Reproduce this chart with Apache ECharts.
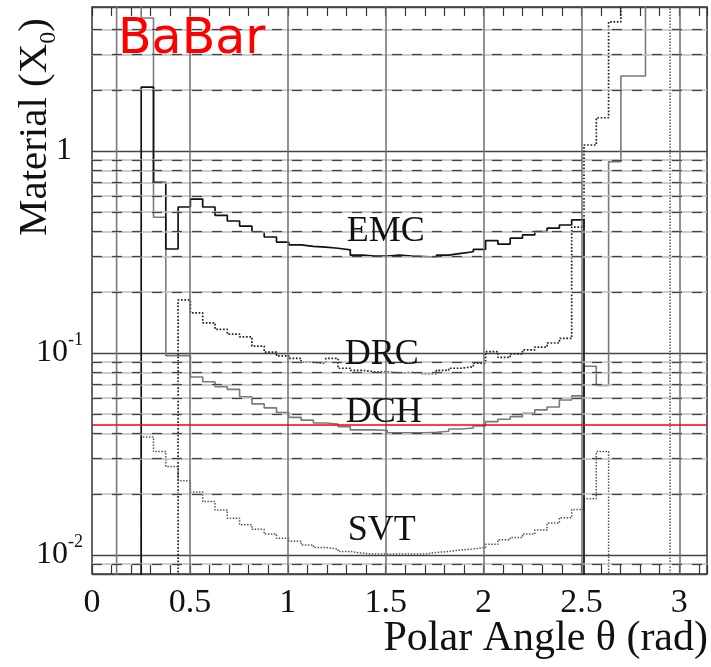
<!DOCTYPE html>
<html>
<head>
<meta charset="utf-8">
<script src="https://cdn.jsdelivr.net/npm/echarts@6/dist/echarts.min.js"></script>
<style>
html, body { margin: 0; padding: 0; background: #fff; }
#chart { width: 711px; height: 667px; }
</style>
</head>
<body>
<div id="chart"></div>
<script>
// material in X0, 50 bins of equal width over 0..pi
const NBINS = 50
const LO = 0.0001   // bin below the plotted range
const HI = 100      // bin above the plotted range

const emc = [LO, LO, LO, LO, 2.07, 0.70, 0.327, 0.528, 0.578, 0.528,
    0.48, 0.45, 0.425, 0.397, 0.375, 0.354, 0.343, 0.337, 0.334, 0.33,
    0.324, 0.305, 0.302, 0.302, 0.305, 0.302, 0.300, 0.298, 0.305, 0.311,
    0.317, 0.326, 0.360, 0.346, 0.370, 0.384, 0.399, 0.415, 0.430, 0.456,
    LO, LO, LO, LO, LO, LO, LO, LO, LO, LO]

const drc = [LO, LO, LO, LO, LO, LO, LO, 0.183, 0.158, 0.141,
    0.131, 0.124, 0.120, 0.108, 0.101, 0.0967, 0.094, 0.090, 0.089, 0.094,
    0.084, 0.082, 0.0805, 0.0805, 0.0795, 0.080, 0.079, 0.079, 0.082, 0.084,
    0.0855, 0.089, 0.1015, 0.095, 0.099, 0.1035, 0.107, 0.112, 0.118, 0.42,
    1.07, 1.46, 4.36, HI, HI, HI, HI, HI, HI, HI]

const dch = [LO, LO, HI, HI, 4.55, 0.47, 0.097, 0.097, 0.076, 0.072,
    0.068, 0.066, 0.0607, 0.056, 0.0535, 0.0507, 0.048, 0.0465, 0.045, 0.0445,
    0.0432, 0.0416, 0.0416, 0.0413, 0.0403, 0.0403, 0.0403, 0.0405, 0.041, 0.042,
    0.0425, 0.0435, 0.0457, 0.047, 0.0484, 0.0503, 0.0523, 0.054, 0.0585, 0.0613,
    0.086, 0.069, 0.885, 2.35, 2.35, HI, HI, HI, HI, HI]

const svt = [LO, LO, LO, LO, 0.0384, 0.0325, 0.0274, 0.0233, 0.0205, 0.0184,
    0.0167, 0.0152, 0.0141, 0.0134, 0.0127, 0.0121, 0.0117, 0.0112, 0.0109, 0.0107,
    0.0104, 0.0102, 0.0101, 0.0101, 0.0101, 0.0101, 0.0101, 0.0103, 0.0104, 0.0106,
    0.0107, 0.0109, 0.0113, 0.0119, 0.0122, 0.0127, 0.0133, 0.0144, 0.0153, 0.0168,
    0.019, 0.0325, LO, LO, LO, LO, LO, HI, HI, HI]

// where the detector names sit [theta, X0]
const labelPos = {EMC: [1.50, 0.40], DRC: [1.48, 0.098], DCH: [1.49, 0.0505], SVT: [1.48, 0.0132]}

// axis ranges and grid lines
const yMin = 0.00805
const yMax = 5.16
const minorGrid = [0.009, 0.02, 0.03, 0.04, 0.05, 0.06, 0.07, 0.08, 0.09,
    0.2, 0.3, 0.4, 0.5, 0.6, 0.7, 0.8, 0.9, 2, 3, 4]
const thetaGrid = [0.5, 1, 1.5, 2, 2.5, 3]
const redLine = 0.044

const SERIF = '"Liberation Serif", "DejaVu Serif", serif'
const binW = Math.PI / NBINS

function histo(vals) {
    let pts = vals.map((v, i) => [i * binW, v])
    pts.push([Math.PI, vals[vals.length - 1]])
    return pts
}

function nameMark(name) {
    return {
        silent: true,
        symbol: 'circle',
        symbolSize: 1,
        itemStyle: {color: 'transparent'},
        label: {show: true, position: 'inside', formatter: name, color: '#111', fontSize: 36, fontFamily: SERIF},
        data: [{coord: labelPos[name]}]
    }
}

function histSeries(name, vals, color, type, width) {
    return {
        name: name,
        type: 'line',
        step: 'end',
        symbol: 'none',
        clip: true,
        z: 3,
        animation: false,
        lineStyle: {color: color, type: type, width: width},
        data: histo(vals),
        markPoint: nameMark(name)
    }
}

function yLabel(v) {
    let lg = Math.log10(v)
    let e = Math.round(lg)
    if (Math.abs(lg - e) > 1e-6) return ''
    if (e === 0) return '{b|1}{gap|}'
    return '{b|10}{s|' + e + '}'
}

function xLabel(v) {
    if (v > 3.01) return ''
    if (Math.abs(v * 2 - Math.round(v * 2)) > 1e-6) return ''
    return String(+v.toFixed(1))
}

let gridLines = []
minorGrid.forEach(v => {
    gridLines.push({yAxis: v, lineStyle: {color: '#bdbdbd', width: 1.5, type: 'solid'}})
    gridLines.push({yAxis: v, lineStyle: {color: '#444', width: 1.3, type: [10, 10]}})
})
thetaGrid.forEach(v => {
    gridLines.push({xAxis: v, lineStyle: {color: '#6e6e6e', width: 1.5, type: 'solid'}})
})

let chart = echarts.init(document.getElementById('chart'))
chart.setOption({
    animation: false,
    backgroundColor: '#fff',
    title: {
        text: 'BaBar', left: 118, top: 16, padding: 0,
        textStyle: {color: '#ff0000', fontSize: 49, fontWeight: 'normal', fontFamily: '"DejaVu Sans", sans-serif'}
    },
    grid: {left: 92, top: 7, right: 4, bottom: 93, show: true, borderColor: '#333', borderWidth: 1.5},
    xAxis: [{
        type: 'value', min: 0, max: Math.PI, interval: 0.1, position: 'bottom',
        axisLine: {show: false},
        axisTick: {show: true, inside: true, length: 9, lineStyle: {color: '#333', width: 1.2}},
        splitLine: {show: false},
        axisLabel: {margin: 12, fontSize: 34, fontFamily: SERIF, color: '#111', formatter: xLabel}
    }, {
        type: 'value', min: 0, max: Math.PI, interval: 0.1, position: 'top',
        axisLine: {show: false},
        axisTick: {show: true, inside: true, length: 9, lineStyle: {color: '#333', width: 1.2}},
        splitLine: {show: false},
        axisLabel: {show: false}
    }],
    yAxis: {
        type: 'log', logBase: 10, min: yMin, max: yMax,
        axisLine: {show: false},
        axisTick: {show: false},
        splitLine: {show: true, lineStyle: {color: '#444', width: 1.3}},
        axisLabel: {
            margin: 9, color: '#111', formatter: yLabel,
            rich: {
                b: {fontSize: 32, fontFamily: SERIF, color: '#111', lineHeight: 44},
                s: {fontSize: 18, fontFamily: SERIF, color: '#111', verticalAlign: 'top', lineHeight: 20},
                gap: {width: 11}
            }
        }
    },
    graphic: [{
        type: 'text', x: 35, y: 127, rotation: Math.PI / 2,
        style: {
            text: '{a|Material (X}{s|0}{a|)}', align: 'center', verticalAlign: 'middle',
            rich: {
                a: {fontSize: 41, fontFamily: SERIF, fill: '#111', lineHeight: 52},
                s: {fontSize: 24, fontFamily: SERIF, fill: '#111', lineHeight: 52, verticalAlign: 'bottom'}
            }
        }
    }, {
        type: 'text', x: 708, y: 639,
        style: {text: 'Polar Angle θ (rad)', align: 'right', verticalAlign: 'middle', fontSize: 42, fontFamily: SERIF, fill: '#111'}
    }],
    series: [{
        name: 'grid',
        type: 'line',
        data: [],
        z: 1,
        markLine: {silent: true, symbol: 'none', precision: 6, label: {show: false}, animation: false, data: gridLines}
    },
        histSeries('SVT', svt, '#555', 'dotted', 1.5),
        histSeries('DCH', dch, '#7a7a7a', 'solid', 1.6),
        histSeries('DRC', drc, '#222', 'dotted', 1.7),
        histSeries('EMC', emc, '#111', 'solid', 1.7),
    {
        name: 'red',
        type: 'line',
        data: [],
        z: 5,
        markLine: {
            silent: true, symbol: 'none', precision: 6, label: {show: false}, animation: false,
            data: [{yAxis: redLine, lineStyle: {color: '#ff0000', width: 1.6, type: 'solid'}}]
        }
    }]
})
</script>
</body>
</html>
